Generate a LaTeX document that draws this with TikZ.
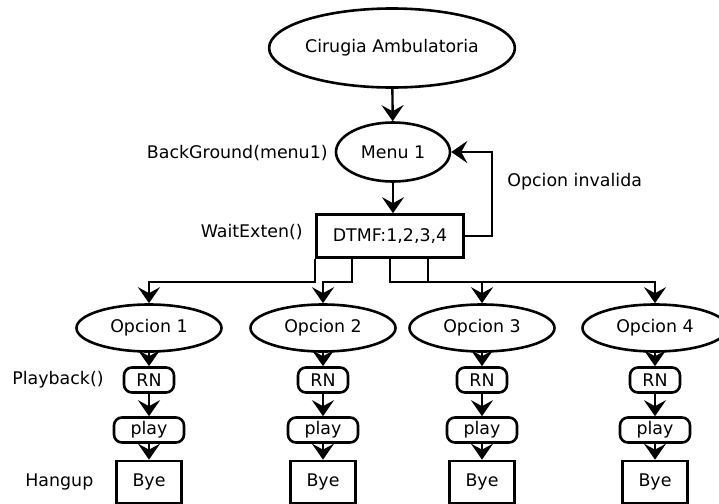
\documentclass[tikz,border=0pt]{standalone}
\usepackage{fontspec}
\setmainfont{DejaVu Sans}
\usetikzlibrary{arrows.meta,shapes.geometric}

\tikzset{
  estado/.style={draw, ellipse, line width=1.3pt, inner sep=0pt},
  caja/.style={draw, rectangle, line width=1.3pt, inner sep=0pt},
  accion/.style={draw, rectangle, rounded corners=4pt, line width=1.3pt, inner sep=0pt, minimum height=12.5pt},
  flecha/.style={line width=1.2pt, -{Stealth[length=8pt,width=11pt,inset=3pt]}},
  etiqueta/.style={inner sep=0pt}
}

\begin{document}
\begin{tikzpicture}[x=0.5pt, y=-0.5pt, font=\fontsize{8.7}{10}\selectfont]
\useasboundingbox (0,0) rectangle (719,504);

\node[estado, minimum width=120.5pt, minimum height=39.5pt] (inicio) at (392,48) {Cirugia Ambulatoria};
\node[estado, minimum width=57pt, minimum height=29.5pt] (menu) at (393,152) {Menu 1};
\node[caja, minimum width=73.5pt, minimum height=21.5pt] (dtmf) at (390,236) {DTMF:1,2,3,4};

\node[etiqueta, anchor=east] (fondo) at (328,153) {BackGround(menu1)};
\node[etiqueta, anchor=east] (espera) at (303,232) {WaitExten()};
\node[etiqueta, anchor=west] (invalida) at (507,182) {Opcion invalida};
\node[etiqueta, anchor=west] (reproducir) at (12,380) {Playback()};
\node[etiqueta, anchor=west] (colgar) at (25,482) {Hangup};

\draw[flecha] (inicio) -- (menu);
\draw[flecha] (menu.south) -- (menu.south |- dtmf.north);
\draw[flecha] (dtmf.east) -- ++(27,0) |- (menu.east);

% opciones
\node[estado, minimum width=72.5pt, minimum height=23.5pt] (op1) at (149,328) {Opcion 1};
\node[estado, minimum width=72.5pt, minimum height=23.5pt] (op2) at (323,328) {Opcion 2};
\node[estado, minimum width=72.5pt, minimum height=23.5pt] (op3) at (482,328) {Opcion 3};
\node[estado, minimum width=72.5pt, minimum height=23.5pt] (op4) at (655,328) {Opcion 4};

\draw[flecha] (dtmf.south west) -- ++(0,23) -| (op1.north);
\draw[flecha] ([xshift=18.5pt]dtmf.south west) -- ++(0,23) -| (op2.north);
\draw[flecha] (dtmf.south) -- ++(0,23) -| (op3.north);
\draw[flecha] ([xshift=-18.5pt]dtmf.south east) -- ++(0,23) -| (op4.north);

\node[accion, minimum width=25pt] (rn1) at (149,380) {RN};
\node[accion, minimum width=25pt] (rn2) at (323,380) {RN};
\node[accion, minimum width=25pt] (rn3) at (482,380) {RN};
\node[accion, minimum width=25pt] (rn4) at (655,380) {RN};

\node[accion, minimum width=35pt] (play1) at (149,430) {play};
\node[accion, minimum width=35pt] (play2) at (323,430) {play};
\node[accion, minimum width=35pt] (play3) at (482,430) {play};
\node[accion, minimum width=35pt] (play4) at (655,430) {play};

\node[caja, minimum width=32.5pt, minimum height=21pt] (bye1) at (149,482) {Bye};
\node[caja, minimum width=32.5pt, minimum height=21pt] (bye2) at (323,482) {Bye};
\node[caja, minimum width=32.5pt, minimum height=21pt] (bye3) at (482,482) {Bye};
\node[caja, minimum width=32.5pt, minimum height=21pt] (bye4) at (655,482) {Bye};

\draw[flecha] (op1) -- (rn1);
\draw[flecha] (op2) -- (rn2);
\draw[flecha] (op3) -- (rn3);
\draw[flecha] (op4) -- (rn4);
\draw[flecha] (rn1) -- (play1);
\draw[flecha] (rn2) -- (play2);
\draw[flecha] (rn3) -- (play3);
\draw[flecha] (rn4) -- (play4);
\draw[flecha] (play1) -- (bye1);
\draw[flecha] (play2) -- (bye2);
\draw[flecha] (play3) -- (bye3);
\draw[flecha] (play4) -- (bye4);
\end{tikzpicture}
\end{document}
